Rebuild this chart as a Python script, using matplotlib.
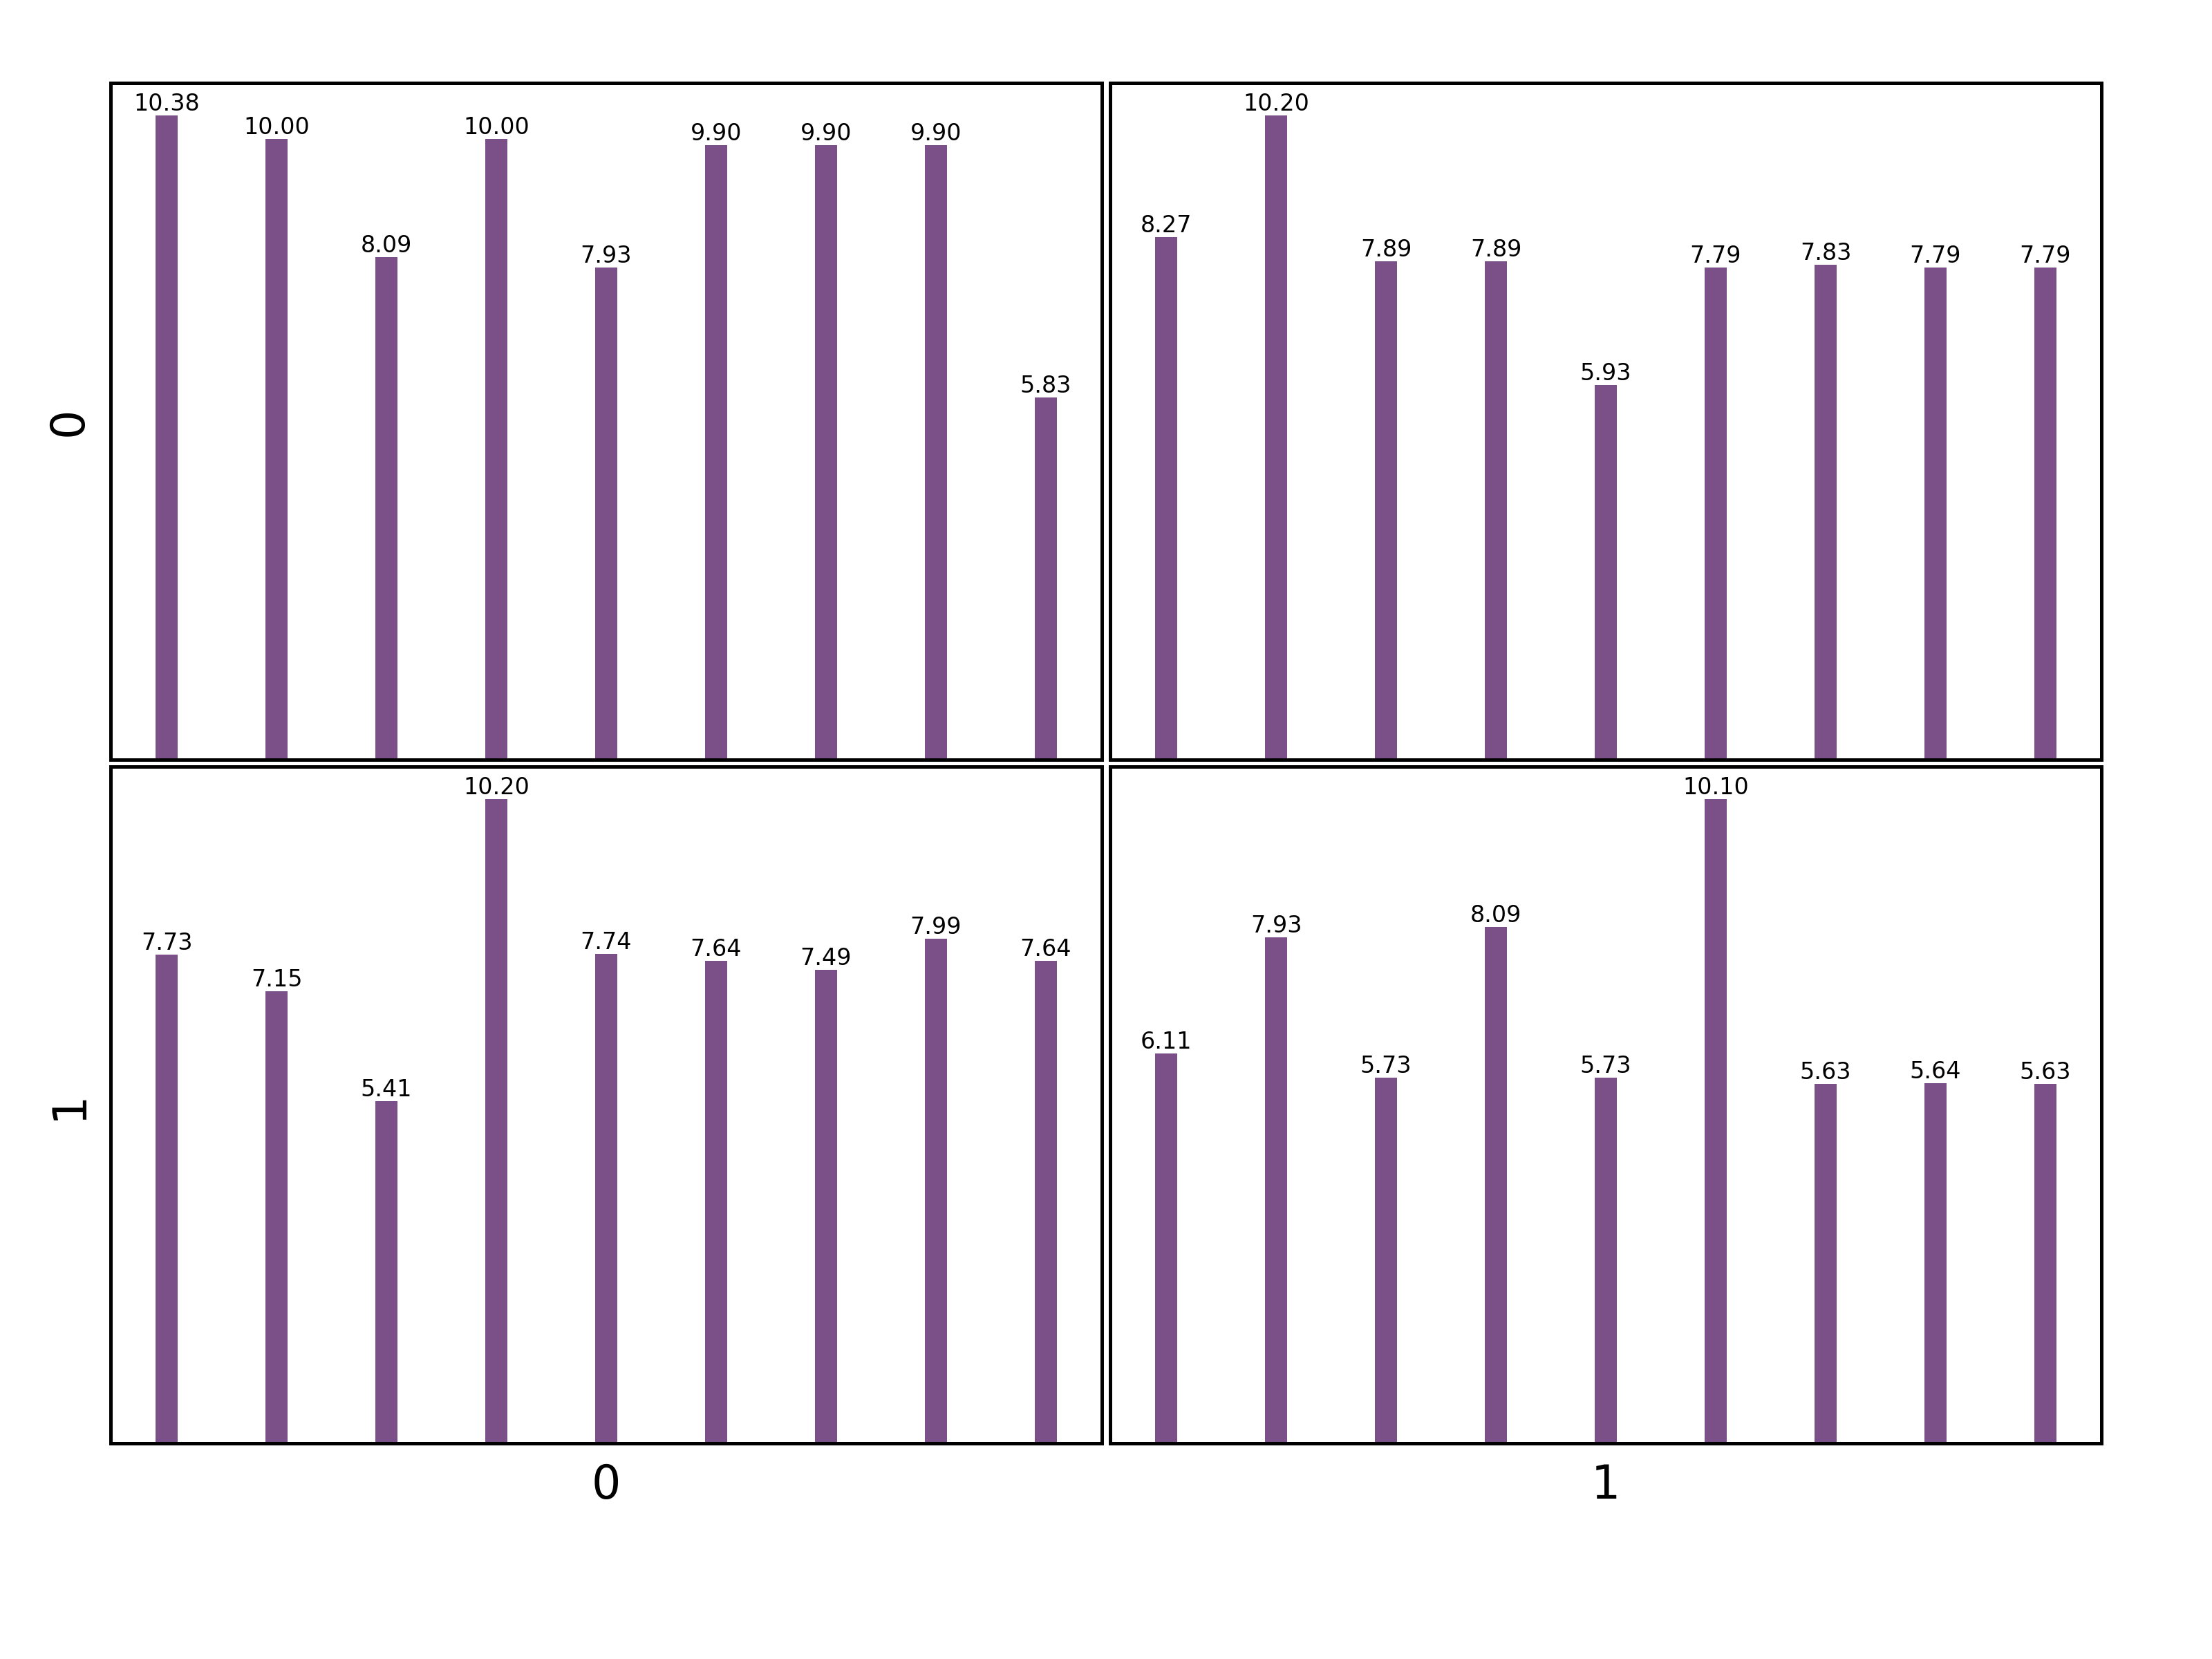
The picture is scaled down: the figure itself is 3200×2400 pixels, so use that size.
import matplotlib
matplotlib.use("Agg")
import matplotlib.pyplot as plt
import numpy as np

row_labels = ["0", "1"]
col_labels = ["0", "1"]
vals_00 = [10.38, 10.00, 8.09, 10.00, 7.93, 9.90, 9.90, 9.90, 5.83]
vals_01 = [8.27, 10.20, 7.89, 7.89, 5.93, 7.79, 7.83, 7.79, 7.79]
vals_10 = [7.73, 7.15, 5.41, 10.20, 7.74, 7.64, 7.49, 7.99, 7.64]
vals_11 = [6.11, 7.93, 5.73, 8.09, 5.73, 10.10, 5.63, 5.64, 5.63]
grid_vals = [[vals_00, vals_01], [vals_10, vals_11]]

bar_color = "#7B4F88"

fig, axes = plt.subplots(2, 2, figsize=(16, 12), dpi=200)
fig.subplots_adjust(left=160/3200, right=3040/3200, top=1-120/2400, bottom=1-2088/2400,
                    wspace=0.0084, hspace=0.0102)

for r in range(2):
    for c in range(2):
        ax = axes[r][c]
        v = grid_vals[r][c]
        x = np.arange(len(v))
        bars = ax.bar(x, v, width=0.2, color=bar_color)
        ax.bar_label(bars, labels=[f"{y:.2f}" for y in v], fontsize=12, padding=0)
        ax.set_xticks([])
        ax.set_yticks([])
        for s in ax.spines.values():
            s.set_linewidth(1.8)
            s.set_color("black")
        if c == 0:
            ax.set_ylabel(row_labels[r], fontsize=24, labelpad=10)
        if r == 1:
            ax.set_xlabel(col_labels[c], fontsize=24, labelpad=10)

fig.savefig("out.png", dpi=200, facecolor="white")
